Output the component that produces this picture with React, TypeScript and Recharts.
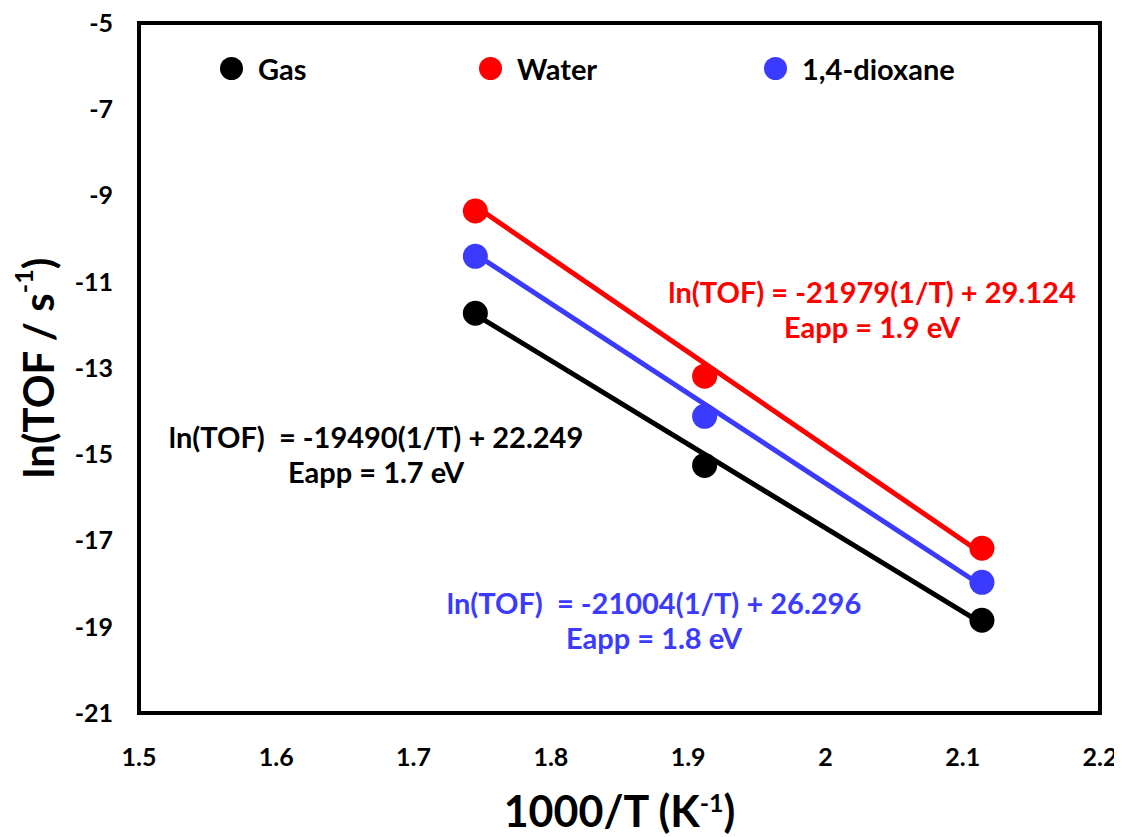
import {
  ComposedChart,
  Line,
  Scatter,
  XAxis,
  YAxis,
  ReferenceArea,
} from "recharts";

// 1000/T values (K^-1) for 300, 250 and 200 °C
const tempX = [1.745, 1.912, 2.114];
const gasTOF = [-11.73, -15.26, -18.85];
const waterTOF = [-9.36, -13.19, -17.18];
const dioxaneTOF = [-10.41, -14.12, -17.97];

// trendline ends
const fitX = [1.745, 2.114];
const gasFit = [-11.76, -18.92];
const waterFit = [-9.25, -17.3];
const dioxaneFit = [-10.36, -18.05];

const xTicks = [1.5, 1.6, 1.7, 1.8, 1.9, 2, 2.1, 2.2];
const yTicks = [-5, -7, -9, -11, -13, -15, -17, -19, -21];

const RED = "#ff0000";
const BLUE = "#3b3bff";
const BLACK = "#000000";
const FONT = "Lato, 'Open Sans', sans-serif";

const series = [
  { name: "Gas", color: BLACK, pts: gasTOF, fit: gasFit },
  { name: "Water", color: RED, pts: waterTOF, fit: waterFit },
  { name: "1,4-dioxane", color: BLUE, pts: dioxaneTOF, fit: dioxaneFit },
];

const toPoints = (xs: number[], ys: number[]) =>
  xs.map((x, i) => ({ x, y: ys[i] }));

const fmtX = (v: number) => String(v);

// legend sits inside the plot box, like the original
function LegendBox() {
  const lefts = [0, 259, 544];
  return (
    <div
      style={{
        position: "absolute",
        top: 43,
        left: 212,
        width: 800,
        height: 30,
        fontFamily: FONT,
      }}
    >
      {series.map((s, i) => (
        <div
          key={s.name}
          style={{
            position: "absolute",
            left: lefts[i],
            top: 0,
            display: "flex",
            alignItems: "center",
            fontWeight: 700,
            fontSize: 29,
            color: "#000",
            whiteSpace: "nowrap",
          }}
        >
          <span
            style={{
              width: 23,
              height: 23,
              borderRadius: "50%",
              background: s.color,
              display: "inline-block",
              marginRight: 15,
            }}
          />
          {s.name}
        </div>
      ))}
    </div>
  );
}

const annStyle = (color: string, cx: number, top: number) => ({
  position: "absolute" as const,
  left: cx - 300,
  width: 600,
  top,
  textAlign: "center" as const,
  color,
  fontFamily: FONT,
  fontWeight: 700,
  fontSize: 29,
  lineHeight: "35px",
  whiteSpace: "pre" as const,
});

export default function App() {
  return (
    <div style={{ position: "relative", width: 1114, height: 829 }}>
      <ComposedChart
        width={1114}
        height={829}
        margin={{ top: 15, right: 22, left: 0, bottom: 0 }}
      >
        <XAxis
          type="number"
          dataKey="x"
          domain={[1.5, 2.2]}
          ticks={xTicks}
          tickFormatter={fmtX}
          axisLine={false}
          tickLine={false}
          tickSize={0}
          tickMargin={35}
          height={124}
          tick={{ fill: "#000", fontSize: 25, fontWeight: 700, fontFamily: FONT }}
          allowDataOverflow
          label={{
            content: ({ viewBox }: any) => (
              <text
                x={viewBox.x + viewBox.width / 2}
                y={viewBox.y + 114}
                textAnchor="middle"
                fontFamily={FONT}
                fontWeight={700}
                fontSize={43}
                fill="#000"
              >
                1000/T (K
                <tspan baselineShift="super" fontSize={25}>-1</tspan>)
              </text>
            ),
          }}
        />
        <YAxis
          type="number"
          dataKey="y"
          domain={[-21, -5]}
          ticks={yTicks}
          axisLine={false}
          tickLine={false}
          tickSize={0}
          tickMargin={26}
          width={131}
          interval={0}
          tick={{ fill: "#000", fontSize: 25, fontWeight: 700, fontFamily: FONT }}
          allowDataOverflow
          label={{
            content: ({ viewBox }: any) => {
              const cx = viewBox.x + 30;
              const cy = viewBox.y + viewBox.height / 2;
              return (
                <text
                  x={cx}
                  y={cy}
                  transform={`rotate(-90 ${cx} ${cy})`}
                  textAnchor="middle"
                  dominantBaseline="central"
                  fontFamily={FONT}
                  fontWeight={700}
                  fontSize={42}
                  fill="#000"
                >
                  ln(TOF / s
                  <tspan baselineShift="super" fontSize={25}>-1</tspan>)
                </text>
              );
            },
          }}
        />
        <ReferenceArea
          x1={1.5}
          x2={2.2}
          y1={-21}
          y2={-5}
          fill="none"
          stroke="#000"
          strokeWidth={4}
          ifOverflow="extendDomain"
        />
        {series.map((s) => (
          <Line
            key={s.name + "-fit"}
            data={toPoints(fitX, s.fit)}
            dataKey="y"
            type="linear"
            stroke={s.color}
            strokeWidth={5}
            dot={false}
            activeDot={false}
            legendType="none"
            isAnimationActive={false}
          />
        ))}
        {series.map((s) => (
          <Scatter
            key={s.name}
            name={s.name}
            data={toPoints(tempX, s.pts)}
            fill={s.color}
            shape={(p: any) => (
              <circle cx={p.cx} cy={p.cy} r={12.5} fill={s.color} />
            )}
            isAnimationActive={false}
          />
        ))}
      </ComposedChart>

      <LegendBox />

      <div style={annStyle(RED, 864, 266)}>
        {"ln(TOF) = -21979(1/T) + 29.124\nEapp = 1.9 eV"}
      </div>
      <div style={annStyle(BLACK, 368, 411)}>
        {"ln(TOF)  = -19490(1/T) + 22.249\nEapp = 1.7 eV"}
      </div>
      <div style={annStyle(BLUE, 646, 577)}>
        {"ln(TOF)  = -21004(1/T) + 26.296\nEapp = 1.8 eV"}
      </div>
    </div>
  );
}
